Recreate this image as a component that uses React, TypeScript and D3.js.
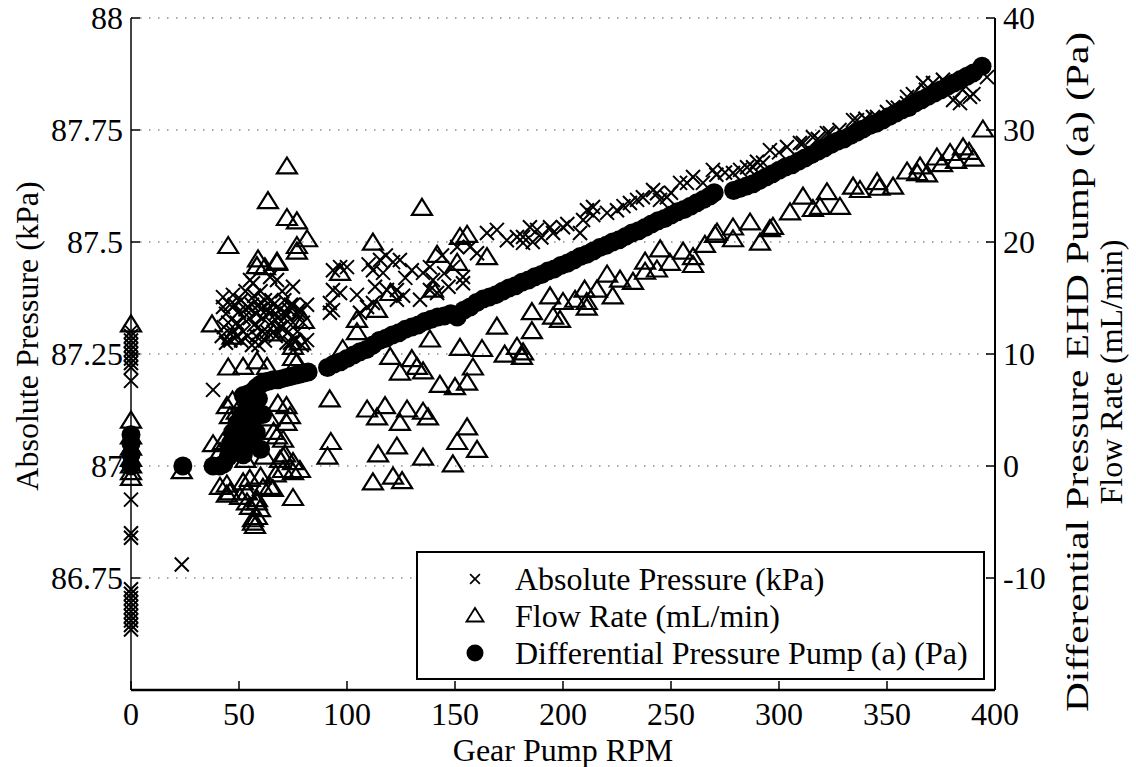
import React from "react";
import * as d3 from "d3";

// ---- Data ----
const xTicks = [0, 50, 100, 150, 200, 250, 300, 350, 400];
const leftTicks = [86.75, 87, 87.25, 87.5, 87.75, 88];
const leftTickLabels = ["86.75", "87", "87.25", "87.5", "87.75", "88"];
const rightTicks = [-10, 0, 10, 20, 30, 40];
const rightTickLabels = ["-10", "0", "10", "20", "30", "40"];

const legendLabels = [
  "Absolute Pressure (kPa)",
  "Flow Rate (mL/min)",
  "Differential Pressure Pump (a) (Pa)",
];

// Absolute Pressure (kPa) vs RPM, left axis
const absPressure: [number, number][] = [
  [0, 87.3], [0, 87.29], [0, 87.28], [0, 87.27], [0, 87.26], [0, 87.25], [0, 87.24], [0, 87.23],
  [0, 87.22], [0, 87.19],
  [0, 86.925], [0, 86.85], [0, 86.84], [0, 86.725], [0, 86.715], [0, 86.705], [0, 86.695],
  [0, 86.685], [0, 86.675], [0, 86.665], [0, 86.655], [0, 86.645], [0, 86.635],
  [23.5, 86.78], [38, 87.17],
  [42.6, 87.377], [47.2, 87.382], [45.8, 87.36], [44, 87.34], [43, 87.31], [42, 87.29],
  [44, 87.275], [47, 87.3], [49, 87.32], [50, 87.345], [51, 87.37], [53, 87.35], [55, 87.33],
  [52, 87.3], [54, 87.29], [56, 87.36], [57, 87.38], [58, 87.34], [59, 87.31], [60, 87.35],
  [61, 87.33], [62, 87.37], [63, 87.3], [64, 87.34], [65, 87.32], [66, 87.36], [67, 87.29],
  [68, 87.33], [69, 87.35], [70, 87.31], [71, 87.37], [72, 87.34], [73, 87.3], [74, 87.36],
  [75, 87.32], [76, 87.28], [78, 87.35], [79.6, 87.32], [81.5, 87.36], [55.1, 87.415],
  [64.4, 87.422], [75, 87.4], [46, 87.28], [48, 87.285], [59, 87.27], [62, 87.28], [72, 87.275],
  [77, 87.3], [79, 87.27], [73.6, 87.275], [56.5, 87.408], [67.6, 87.415], [42.6, 87.355],
  [78.2, 87.342], [81.5, 87.281], [48, 87.36], [53, 87.39], [60, 87.39], [70, 87.39],
  [45, 87.32], [50, 87.31], [52, 87.33], [54, 87.355], [57, 87.315], [59, 87.36], [61, 87.3],
  [63, 87.35], [65, 87.37], [67, 87.34], [69, 87.31], [71, 87.33], [73, 87.35], [75, 87.36],
  [77, 87.34], [58, 87.29], [66, 87.3], [51, 87.28], [56, 87.27],
  [93.5, 87.437], [96.8, 87.386], [92.1, 87.364], [92.1, 87.342], [100, 87.444],
  [96.8, 87.444], [93.5, 87.393], [93.5, 87.348], [104.6, 87.382], [106, 87.342],
  [109.3, 87.355], [112, 87.364], [115.3, 87.46], [112, 87.437], [116.7, 87.431],
  [121.3, 87.455], [124.5, 87.46], [118.5, 87.393], [123.1, 87.393], [123.1, 87.371],
  [130, 87.437], [135.2, 87.431], [138.4, 87.444], [139.8, 87.415], [141.7, 87.386],
  [138.4, 87.393], [133.8, 87.371], [149, 87.444], [153.7, 87.422], [153.7, 87.408],
  [151, 87.489], [157, 87.489], [160.2, 87.475], [164.8, 87.52], [169.4, 87.527],
  [174, 87.504], [178.7, 87.511], [181.5, 87.498], [184.7, 87.533], [110, 87.45],
  [127, 87.42], [126, 87.38], [145, 87.43], [147, 87.4], [144, 87.47], [118, 87.47], [113, 87.4],
  [181.5, 87.511], [188, 87.527], [194, 87.533], [195.4, 87.52], [200, 87.533], [207.9, 87.52],
  [209.3, 87.549], [211.1, 87.571], [213.9, 87.578], [220.4, 87.565], [225, 87.571],
  [231, 87.587], [234.3, 87.594], [237, 87.6], [241.7, 87.616], [243.5, 87.609],
  [244.9, 87.594], [248.1, 87.6], [254.2, 87.632], [257.4, 87.632], [260.2, 87.645],
  [264.8, 87.632], [269.4, 87.661], [278.7, 87.654], [282, 87.661], [285.2, 87.667],
  [288, 87.667], [289.8, 87.679], [292.6, 87.677], [295.8, 87.705], [303.7, 87.712],
  [309.7, 87.721], [311.1, 87.721], [315.7, 87.734], [322.2, 87.743], [323.6, 87.743],
  [334.3, 87.772], [336.1, 87.772], [343.5, 87.779], [345.4, 87.779], [352.8, 87.801],
  [359.3, 87.81], [359.3, 87.824], [366.7, 87.855], [371.3, 87.855], [375.9, 87.862],
  [380.6, 87.817], [383.8, 87.81], [388.4, 87.824], [396.3, 87.868],
  [214, 87.56], [202, 87.54], [190, 87.51], [186, 87.5], [228, 87.58], [250, 87.61],
  [271, 87.65], [275, 87.655], [300, 87.7], [318, 87.73], [328, 87.75], [340, 87.775],
  [350, 87.79], [355, 87.8], [362, 87.83], [368, 87.84], [385, 87.84], [390, 87.83], [378, 87.85],
];

// Flow Rate (mL/min) vs RPM, right axis
const flowRate: [number, number][] = [
  [0, 12.6], [0, 4.0], [0, 2.6], [0, 1.6], [0, 0.6], [0, 0], [0, -0.6], [0, -1.1],
  [23.5, -0.5],
  [72.2, 26.7], [63.4, 23.6], [72.2, 22.1], [76.8, 21.8], [81.5, 20.2], [76.8, 19.6],
  [45, 19.6], [67.6, 18.2], [58.3, 17.8], [62, 17.7], [37.5, 12.6], [75, 10.6], [45, 8.75],
  [51.9, 8.8], [58.3, 9.3], [63, 8.8], [75, 9.6], [44.4, 5.3], [45.8, 4.4], [72, 5.3],
  [73.6, 4.4], [72, 3.8], [42.6, 2.1], [41.2, 1.2], [70.4, 2.3], [71.3, 1.0], [69, 0.5],
  [75, -0.6], [70.4, -0.4], [44.4, -1.7], [45.8, -2.4], [53.7, -2.4], [58.3, -3.0],
  [61.1, -2.0], [64.4, -1.9], [55.1, -3.7], [59.7, -3.9], [56.5, -4.8], [57.4, -5.4],
  [75, -2.9], [51.9, -1.5], [38, 1.9], [56.5, -5.1], [67.6, 2.6], [70.4, 0.8], [41.2, -1.9],
  [44.4, -2.6], [50.5, -2.8], [53.7, -3.3], [58.3, -3.3], [58.3, -4.6], [65.7, -2.1],
  [75, 0.3], [78.2, -0.4], [76.8, 9.2], [78.2, 11.0], [58.8, 18.4], [67.6, 18.1], [76.8, 19.1],
  [47, 11.5], [66, 11.8], [80, 12.9], [48, 3.5], [50, 1.5], [53, 0.5], [47, 5.8], [49, 4.8],
  [66, 3.0], [68, 5.5], [62, 0.8], [64, 4.2], [55, -1.2], [60, -1.0], [67, -0.8],
  [92, 5.9], [92.5, 2.1], [91, 0.8], [134.7, 23.0], [112, 19.9], [152.3, 20.4], [155.6, 20.6],
  [164.8, 18.6], [141.7, 18.8], [151, 18.1], [96.8, 17.2], [120, 15.4], [139.8, 15.7],
  [113.9, 13.9], [104.6, 13.0], [104.6, 11.9], [169.4, 12.4], [98, 10.4], [138.4, 11.25],
  [152.3, 10.5], [162.5, 10.4], [173, 9.9], [178.7, 10.6], [181, 9.7], [120, 9.7], [130, 9.5],
  [124.5, 8.3], [135.2, 8.4], [132.4, 8.8], [158.3, 8.75], [155.6, 7.4], [143, 7.2], [150, 7.0],
  [109.3, 5.0], [117.6, 5.3], [113.9, 4.3], [127.8, 5.0], [124.5, 3.8], [135.2, 4.8],
  [137.5, 4.3], [155.6, 3.4], [151, 2.1], [160.2, 1.4], [114.4, 1.0], [123.1, 1.7],
  [135.2, 0.7], [149, 0.1], [112, -1.5], [121.3, -1.0], [125.5, -1.4],
  [181.5, 10.1], [185.6, 13.7], [185.6, 12.0], [194, 15.1], [195.4, 13.3], [198.6, 13.0],
  [200, 14.6], [205.6, 14.8], [210, 15.7], [211, 14.6], [211, 14.1], [215.7, 15.7],
  [220.4, 17.05], [223, 15.1], [226.4, 16.6], [232.4, 16.4], [238, 18.2], [238, 17.3],
  [243.5, 17.5], [245, 19.3], [249.5, 18.1], [255.6, 19.1], [260.2, 18.6], [260.2, 17.9],
  [265.7, 19.7], [270.4, 20.6], [271.3, 20.8], [278.7, 21.25], [278.7, 20.2], [286.6, 21.7],
  [291.2, 19.9], [295.8, 21.1], [297.2, 21.3], [305.1, 22.6], [311.1, 24.0], [315.7, 22.9],
  [319, 23.1], [322.2, 24.4], [328.2, 23.1], [334.3, 24.9], [337.5, 24.6], [345.4, 25.3],
  [346.5, 24.8], [352.8, 24.9], [359.3, 26.25], [364, 26.1], [365.3, 26.7], [368.5, 26.0],
  [373.1, 27.5], [375.5, 26.9], [379.2, 27.9], [382, 27.2], [385.2, 28.4], [388, 28.0],
  [390, 27.4], [394.4, 30.0],
];

// Differential Pressure Pump (a) (Pa) vs RPM, right axis
const diffPressure: [number, number][] = [
  [0, 0], [0, 1], [0, 2], [0, 2.8],
  [24, 0], [38, 0], [41, 0], [43, 0.2], [45, 0.8], [46, 2.0], [47, 3.0], [48, 1.2], [49, 3.8],
  [50, 2.2], [51, 4.5], [52, 1.0], [52, 6.3], [53, 3.2], [54, 5.2], [54, 6.4], [55, 2.0],
  [56, 4.0], [56, 6.6], [57, 5.4], [58, 3.0], [58, 7.0], [59, 6.0], [60, 1.5], [60, 7.3],
  [61, 4.6], [62, 7.5], [64, 7.6], [66, 7.7], [68, 7.7], [70, 7.8], [72, 7.9], [74, 8.0],
  [76, 8.1], [78, 8.2], [80, 8.3], [82, 8.4], [91, 8.8], [94, 9.1], [97, 9.3], [100, 9.6],
  [103, 9.9], [106, 10.2], [109, 10.4], [112, 10.8], [115, 11.2], [118, 11.4], [121, 11.7],
  [124, 11.9], [127, 12.2], [130, 12.4], [133, 12.6], [136, 12.9], [139, 13.1], [142, 13.3],
  [145, 13.4], [148, 13.6], [151, 13.3], [154, 13.9], [157, 14.2], [160, 14.6], [163, 14.9],
  [166, 15.1], [169, 15.3], [172, 15.6], [175, 15.9], [178, 16.1], [181, 16.4], [184, 16.6],
  [187, 16.9], [190, 17.1], [193, 17.4], [196, 17.6], [199, 17.9], [202, 18.1], [205, 18.4],
  [208, 18.7], [211, 18.9], [214, 19.2], [217, 19.5], [220, 19.7], [223, 20.0], [226, 20.2],
  [229, 20.5], [232, 20.8], [235, 21.0], [238, 21.3], [241, 21.6], [244, 21.9], [247, 22.1],
  [250, 22.4], [253, 22.7], [256, 22.9], [259, 23.2], [262, 23.5], [265, 23.8], [268, 24.1],
  [270, 24.4], [279, 24.6], [282, 24.8], [285, 25.0], [288, 25.2], [291, 25.5], [294, 25.8],
  [297, 26.1], [300, 26.4], [303, 26.7], [306, 26.9], [309, 27.2], [312, 27.5], [315, 27.8],
  [318, 28.1], [321, 28.4], [324, 28.7], [327, 29.0], [330, 29.2], [333, 29.5], [336, 29.8],
  [339, 30.1], [342, 30.4], [345, 30.6], [348, 30.9], [351, 31.2], [354, 31.5], [357, 31.8],
  [360, 32.0], [363, 32.4], [366, 32.7], [369, 33.0], [372, 33.3], [375, 33.6], [378, 33.9],
  [381, 34.2], [384, 34.5], [387, 34.8], [390, 35.1], [394, 35.7],
];

const FONT = '"Liberation Serif", "Times New Roman", Times, serif';

const crossPath = "M-7,-7L7,7M-7,7L7,-7";
const triPath = "M0,-9.5L10,6.5L-10,6.5Z";

export default function App() {
  const L = 131, R = 995, T = 18, B = 690;
  const x = d3.scaleLinear().domain([0, 400]).range([L, R]);
  const yL = d3.scaleLinear().domain([86.5, 88]).range([B, T]);
  const yR = d3.scaleLinear().domain([-20, 40]).range([B, T]);
  const fs = 32;

  const legX = 417, legY = 552, legW = 567, legH = 127;
  const rowY = [579, 616, 653];
  const tstyle = { fontFamily: FONT };

  return (
    <svg
      width={1136}
      height={767}
      style={{ position: "absolute", left: 0, top: 0, background: "#fff", fontFamily: FONT }}
    >
      <rect x={0} y={0} width={1136} height={767} fill="#fff" />
      {/* grid */}
      {leftTicks.map((t) => (
        <line key={"g" + t} x1={L} x2={R} y1={yL(t)} y2={yL(t)} stroke="#555" strokeWidth={1.2} strokeDasharray="1.5 7.5" />
      ))}

      {/* axes */}
      <line x1={L} x2={L} y1={T} y2={B} stroke="#444" strokeWidth={2} />
      <line x1={R} x2={R} y1={T} y2={B} stroke="#000" strokeWidth={2} />
      <line x1={L} x2={R} y1={B} y2={B} stroke="#000" strokeWidth={2.5} />
      {leftTicks.map((t) => (
        <line key={"lt" + t} x1={L} x2={L + 9} y1={yL(t)} y2={yL(t)} stroke="#000" strokeWidth={1.5} />
      ))}
      {rightTicks.map((t) => (
        <line key={"rt" + t} x1={R - 9} x2={R} y1={yR(t)} y2={yR(t)} stroke="#000" strokeWidth={1.5} />
      ))}
      {xTicks.map((t) => (
        <line key={"xt" + t} x1={x(t)} x2={x(t)} y1={B} y2={B - 9} stroke="#000" strokeWidth={1.5} />
      ))}

      {/* data */}
      {absPressure.map(([r, v], i) => (
        <path key={"a" + i} d={crossPath} transform={`translate(${x(r)},${yL(v)})`} stroke="#000" strokeWidth={2} fill="none" />
      ))}
      {flowRate.map(([r, v], i) => (
        <path key={"f" + i} d={triPath} transform={`translate(${x(r)},${yR(v)})`} stroke="#000" strokeWidth={2.2} fill="none" />
      ))}
      {diffPressure.map(([r, v], i) => (
        <circle key={"d" + i} cx={x(r)} cy={yR(v)} r={9.5} fill="#000" />
      ))}

      {/* tick labels */}
      {leftTicks.map((t, i) => (
        <text key={"ll" + t} x={L - 8} y={yL(t)} dy="0.35em" textAnchor="end" fontSize={fs} style={tstyle}>
          {leftTickLabels[i]}
        </text>
      ))}
      {rightTicks.map((t, i) => (
        <text key={"rl" + t} x={R + 8} y={yR(t)} dy="0.35em" textAnchor="start" fontSize={fs} style={tstyle}>
          {rightTickLabels[i]}
        </text>
      ))}
      {xTicks.map((t) => (
        <text key={"xl" + t} x={x(t)} y={B + 35} textAnchor="middle" fontSize={fs} style={tstyle}>
          {t}
        </text>
      ))}

      {/* axis titles */}
      <text x={(L + R) / 2} y={761} textAnchor="middle" fontSize={fs} style={tstyle}>Gear Pump RPM</text>
      <text transform={`translate(38,336) rotate(-90)`} textAnchor="middle" fontSize={fs} style={tstyle}>Absolute Pressure (kPa)</text>
      <text
        transform={`translate(1088,372) rotate(-90)`}
        textAnchor="middle"
        fontSize={fs}
        textLength={680}
        lengthAdjust="spacingAndGlyphs"
        style={tstyle}
      >
        Differential Pressure EHD Pump (a) (Pa)
      </text>
      <text transform={`translate(1122,372) rotate(-90)`} textAnchor="middle" fontSize={fs} style={tstyle}>Flow Rate (mL/min)</text>

      {/* legend */}
      <rect x={legX} y={legY} width={legW} height={legH} fill="#fff" stroke="#000" strokeWidth={2} />
      <path d={crossPath} transform={`translate(475,${rowY[0]}) scale(0.7)`} stroke="#000" strokeWidth={2.4} fill="none" />
      <path d={triPath} transform={`translate(475,${rowY[1]}) scale(0.85)`} stroke="#000" strokeWidth={2.2} fill="none" />
      <circle cx={475} cy={rowY[2]} r={8.5} fill="#000" />
      {legendLabels.map((s, i) => (
        <text key={s} x={515} y={rowY[i]} dy="0.35em" fontSize={fs} style={tstyle}>{s}</text>
      ))}
    </svg>
  );
}
